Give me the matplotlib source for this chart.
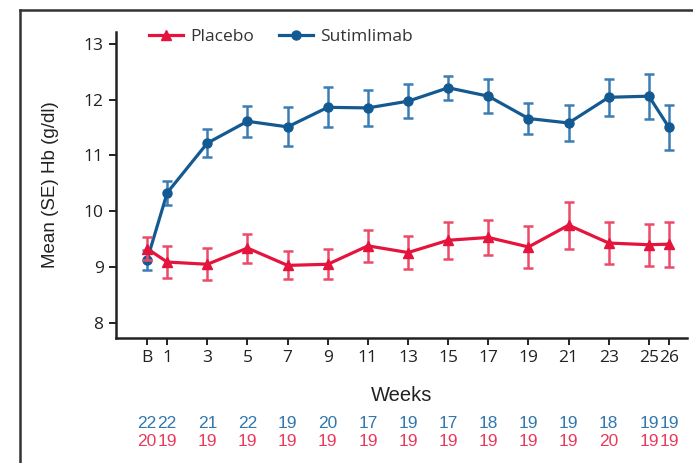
import matplotlib
matplotlib.use("Agg")
import matplotlib.pyplot as plt
from matplotlib.lines import Line2D
import matplotlib.transforms as mtransforms

# data
weeks = [0, 1, 3, 5, 7, 9, 11, 13, 15, 17, 19, 21, 23, 25, 26]
week_labels = ["B", "1", "3", "5", "7", "9", "11", "13", "15", "17", "19", "21", "23", "25", "26"]

suti_mean = [9.13, 10.33, 11.22, 11.61, 11.51, 11.86, 11.85, 11.97, 12.21, 12.06, 11.66, 11.58, 12.04, 12.06, 11.50]
suti_se = [0.18, 0.21, 0.25, 0.28, 0.35, 0.36, 0.32, 0.30, 0.22, 0.30, 0.27, 0.33, 0.33, 0.40, 0.40]

plac_mean = [9.33, 9.09, 9.05, 9.34, 9.03, 9.05, 9.38, 9.26, 9.48, 9.53, 9.36, 9.75, 9.43, 9.40, 9.41]
plac_se = [0.21, 0.29, 0.29, 0.26, 0.25, 0.27, 0.29, 0.30, 0.33, 0.32, 0.37, 0.42, 0.37, 0.38, 0.40]

suti_n = [22, 22, 21, 22, 19, 20, 17, 19, 17, 18, 19, 19, 18, 19, 19]
plac_n = [20, 19, 19, 19, 19, 19, 19, 19, 19, 19, 19, 19, 20, 19, 19]

BLUE = "#145a92"
BLUE_ERR = "#3a7db5"
BLUE_TXT = "#3277ad"
RED = "#e5143c"
RED_ERR = "#ec4a68"
RED_TXT = "#ea3a5c"

FONT = ["Open Sans", "DejaVu Sans"]
NARROW = ["Liberation Sans Narrow", "Liberation Sans", "DejaVu Sans"]

fig = plt.figure(figsize=(6.93, 4.63), dpi=100)
ax = fig.add_axes([0.1674, 0.270, 0.824, 0.661])

ax.errorbar(weeks, suti_mean, yerr=suti_se, color=BLUE, ecolor=BLUE_ERR,
            elinewidth=1.8, capsize=3.5, capthick=1.8, lw=2.3,
            marker="o", ms=6.5, zorder=3)
ax.errorbar(weeks, plac_mean, yerr=plac_se, color=RED, ecolor=RED_ERR,
            elinewidth=1.8, capsize=3.5, capthick=1.8, lw=2.3,
            marker="^", ms=7, zorder=4)

ax.set_xlim(-1.55, 26.9)
ax.set_ylim(7.73, 13.21)
ax.set_yticks([8, 9, 10, 11, 12, 13])
ax.set_xticks(weeks)
ax.set_xticklabels(week_labels)

for s in ["top", "right"]:
    ax.spines[s].set_visible(False)
for s in ["left", "bottom"]:
    ax.spines[s].set_linewidth(1.8)
    ax.spines[s].set_color("#222222")
ax.tick_params(axis="both", direction="out", length=5, width=1.4,
               color="#222222", labelsize=12.5, labelcolor="#222222", pad=4)
for lbl in ax.get_xticklabels() + ax.get_yticklabels():
    lbl.set_family(FONT)

ax.set_ylabel("Mean (SE) Hb (g/dl)", family=NARROW, fontsize=13.5, color="#222222", labelpad=18)
ax.set_xlabel("Weeks", family=NARROW, fontsize=14.5, color="#222222", labelpad=14)

# patient counts below the axis
trans = mtransforms.blended_transform_factory(ax.transData, ax.transAxes)
for w, nb, nr in zip(weeks, suti_n, plac_n):
    ax.text(w, -0.278, str(nb), transform=trans, ha="center", va="center",
            color=BLUE_TXT, fontsize=12.5, family=NARROW)
    ax.text(w, -0.337, str(nr), transform=trans, ha="center", va="center",
            color=RED_TXT, fontsize=12.5, family=NARROW)

legend_handles = [
    Line2D([], [], color=RED, lw=2.3, marker="^", ms=7),
    Line2D([], [], color=BLUE, lw=2.3, marker="o", ms=6.5),
]
leg = ax.legend(legend_handles, ["Placebo", "Sutimlimab"],
                loc="upper left", bbox_to_anchor=(0.03, 1.06), ncol=2,
                frameon=False, handlelength=2.0, columnspacing=1.4,
                handletextpad=0.4, prop={"family": FONT, "size": 12.5})
for t in leg.get_texts():
    t.set_color("#333333")

# outer frame lines (left and top)
fig.add_artist(Line2D([20 / 693, 20 / 693], [0, 1 - 10 / 463],
                      transform=fig.transFigure, color="#333333", lw=1.8))
fig.add_artist(Line2D([20 / 693, 1], [1 - 10 / 463, 1 - 10 / 463],
                      transform=fig.transFigure, color="#333333", lw=1.8))

fig.savefig("out.png", dpi=100)
